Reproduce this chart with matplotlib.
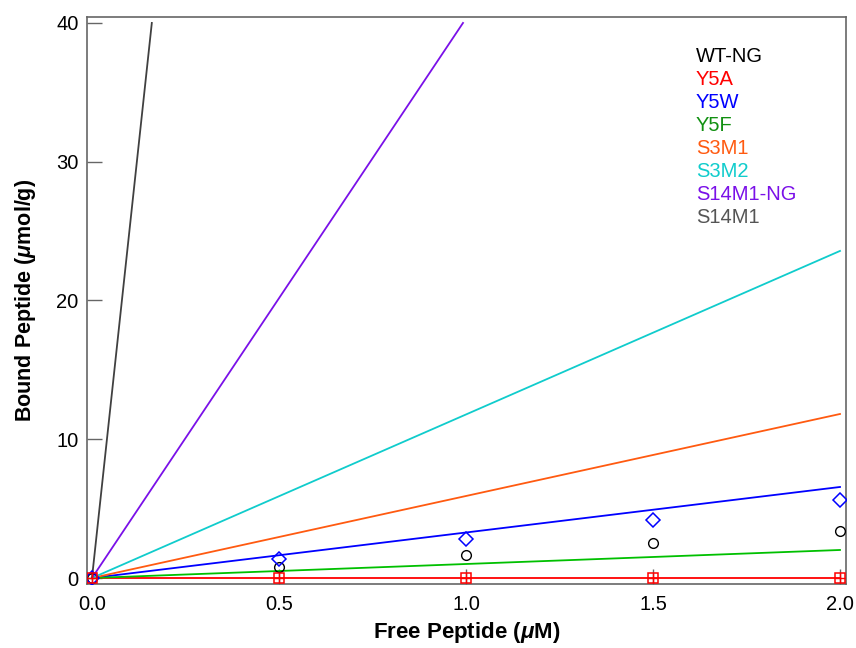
import matplotlib
matplotlib.use("Agg")
import matplotlib.pyplot as plt

plt.rcParams["font.family"] = ["Liberation Sans", "DejaVu Sans"]
plt.rcParams["mathtext.fontset"] = "custom"
plt.rcParams["mathtext.it"] = "Liberation Sans:italic:bold"
plt.rcParams["mathtext.rm"] = "Liberation Sans:bold"

# measured points
free_x = [0.0, 0.5, 1.0, 1.5, 2.0]
wt_ng_pts = [0.0, 0.8, 1.66, 2.5, 3.4]
y5w_pts = [0.0, 1.37, 2.8, 4.2, 5.6]
y5a_pts = [0.0, 0.0, 0.0, 0.0, 0.0]

# linear fits: (x end, y end), all through origin
fit_names = ["Y5A", "Y5W", "Y5F", "S3M1", "S3M2", "S14M1-NG", "S14M1"]
fit_x_end = [2.0, 2.0, 2.0, 2.0, 2.0, 0.992, 0.16]
fit_y_end = [0.0, 6.56, 2.02, 11.82, 23.57, 40.0, 40.0]
fit_colors = ["#ff0000", "#0000ff", "#00c000", "#ff5a10", "#10cccc", "#7a10e8", "#404040"]

legend_names = ["WT-NG", "Y5A", "Y5W", "Y5F", "S3M1", "S3M2", "S14M1-NG", "S14M1"]
legend_colors = ["#000000", "#ff0000", "#0000ff", "#119011", "#ff5a10", "#10cccc", "#7a10e8", "#555555"]

fig = plt.figure(figsize=(8.56, 6.48), dpi=100)
ax = fig.add_axes([0.1016, 0.0988, 0.8867, 0.875])

for xe, ye, c in zip(fit_x_end, fit_y_end, fit_colors):
    ax.plot([0.0, xe], [0.0, ye], color=c, lw=1.3, zorder=2)

ax.plot(free_x, wt_ng_pts, ls="none", marker="o", ms=7, mfc="none",
        mec="black", mew=1.0, zorder=3)
ax.plot(free_x, y5w_pts, ls="none", marker="D", ms=7.5, mfc="none",
        mec="#0000ff", mew=1.1, zorder=3)
ax.plot(free_x, y5a_pts, ls="none", marker="s", ms=7, mfc="none",
        mec="#ff0000", mew=1.1, zorder=3)
ax.plot(free_x, y5a_pts, ls="none", marker="+", ms=7, mec="#ff0000",
        mew=1.0, zorder=3)

ax.set_xlim(-0.0134, 2.016)
ax.set_ylim(-0.43, 40.43)
ax.set_xticks([0.0, 0.5, 1.0, 1.5, 2.0])
ax.set_xticklabels(["0.0", "0.5", "1.0", "1.5", "2.0"])
ax.set_yticks([0, 10, 20, 30, 40])
ax.tick_params(direction="in", length=11, width=1, color="#666666",
               labelsize=14.5, pad=6)
ax.tick_params(axis="x", pad=8)
for sp in ax.spines.values():
    sp.set_color("#666666")
    sp.set_linewidth(1.2)

ax.set_xlabel(r"Free Peptide ($\mathit{\mu}$M)", fontsize=16, fontweight="bold", labelpad=4)
ax.set_ylabel(r"Bound Peptide ($\mathit{\mu}$mol/g)", fontsize=15.5, fontweight="bold", labelpad=13)

for i, (name, c) in enumerate(zip(legend_names, legend_colors)):
    ax.text(0.802, 0.931 - i * 0.0407, name, color=c, fontsize=14.5,
            transform=ax.transAxes, va="center", ha="left")

fig.savefig("out.png", dpi=100)
